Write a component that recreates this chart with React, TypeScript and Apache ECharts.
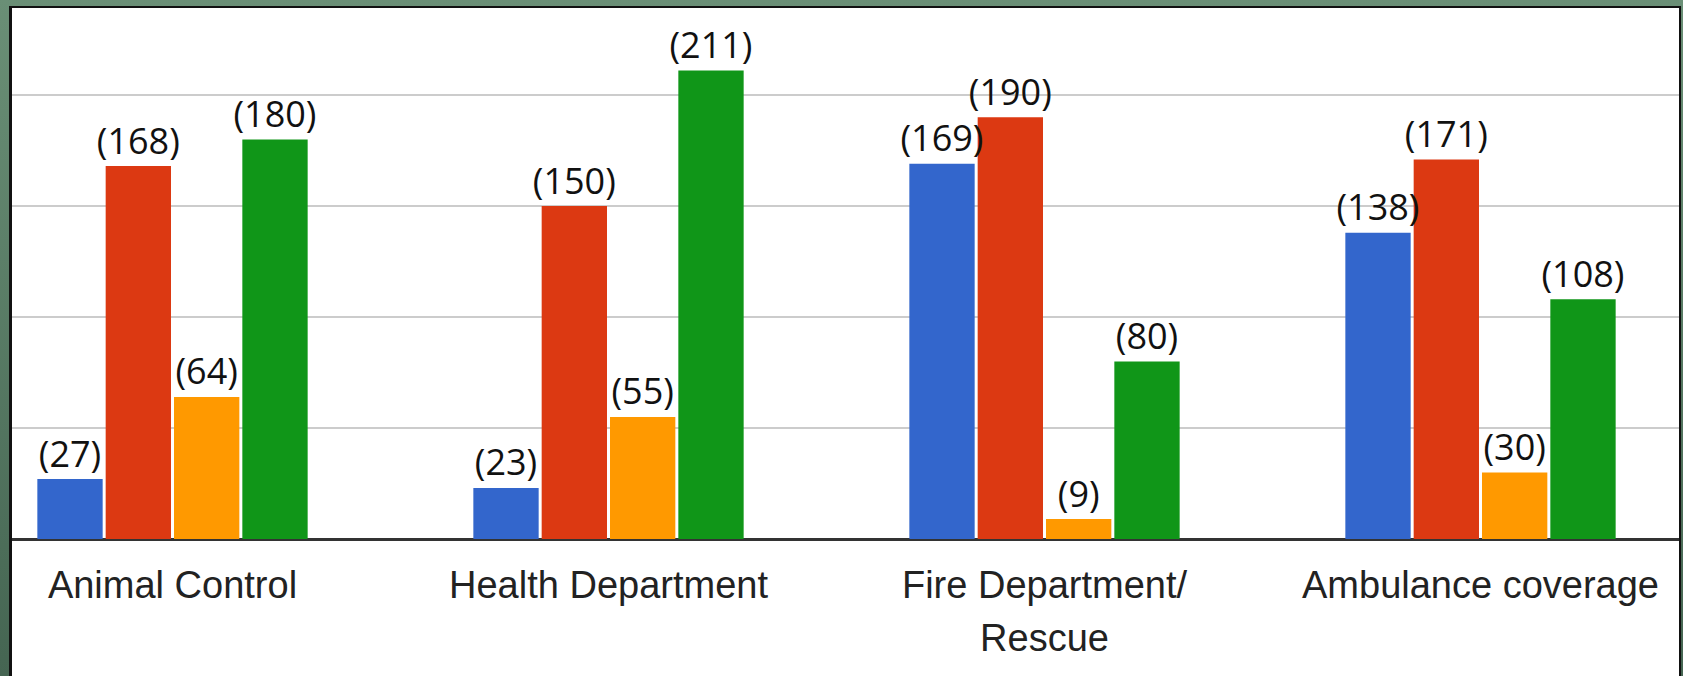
import React, { useEffect, useRef } from "react";
import * as echarts from "echarts";

const categories = ["Animal Control", "Health Department", "Fire Department/\nRescue", "Ambulance coverage"];
const seriesNames = ["Series 1", "Series 2", "Series 3", "Series 4"];
const seriesA = [27, 23, 169, 138];
const seriesB = [168, 150, 190, 171];
const seriesC = [64, 55, 9, 30];
const seriesD = [180, 211, 80, 108];
const colors = ["#3366cc", "#dc3912", "#ff9900", "#109618"];

// chart div is offset by (-100, -50) in page coordinates and clipped by the panel
const OX = 100;
const OY = 50;
const CW = 1883;
const CH = 776;

export default function App() {
  const ref = useRef<HTMLDivElement>(null);
  useEffect(() => {
    if (!ref.current) return;
    const chart = echarts.init(ref.current, null, { renderer: "svg" });
    const data = [seriesA, seriesB, seriesC, seriesD];
    chart.setOption({
      animation: false,
      backgroundColor: "transparent",
      grid: {
        left: -45.5 + OX,
        right: CW - (1698.5 + OX),
        top: -16 + OY,
        bottom: CH - (539 + OY),
        containLabel: false,
      },
      xAxis: {
        type: "category",
        data: categories,
        axisLine: { show: true, lineStyle: { color: "#333333", width: 3 } },
        axisTick: { show: false },
        axisLabel: {
          interval: 0,
          margin: 19,
          color: "#222222",
          fontFamily: "Liberation Sans",
          fontSize: 38,
          lineHeight: 53,
        },
      },
      yAxis: {
        type: "value",
        min: 0,
        max: 250,
        interval: 50,
        axisLine: { show: false },
        axisTick: { show: false },
        axisLabel: { show: false },
        splitLine: { show: true, lineStyle: { color: "#cccccc", width: 2 } },
      },
      series: data.map((d, i) => ({
        name: seriesNames[i],
        type: "bar",
        data: d,
        barCategoryGap: "38%",
        barGap: "4.6%",
        itemStyle: { color: colors[i] },
        label: {
          show: true,
          position: "top",
          distance: 8,
          formatter: (p: any) => "(" + p.value + ")",
          color: "#111111",
          fontFamily: "Open Sans",
          fontSize: 36,
        },
      })),
    });
    return () => chart.dispose();
  }, []);

  return (
    <div
      style={{
        position: "fixed",
        left: 0,
        top: 0,
        width: 1683,
        height: 676,
        background: "linear-gradient(to bottom, #6a8f76, #456552)",
        overflow: "hidden",
      }}
    >
      <div
        style={{
          position: "absolute",
          left: 9,
          top: 6,
          width: 1667,
          height: 680,
          borderLeft: "3px solid #111111",
          borderTop: "2px solid #111111",
          borderRight: "2px solid #111111",
          background: "#ffffff",
          overflow: "hidden",
        }}
      >
        <div
          ref={ref}
          style={{ position: "absolute", left: -12 - OX, top: -8 - OY, width: CW, height: CH }}
        />
      </div>
    </div>
  );
}
